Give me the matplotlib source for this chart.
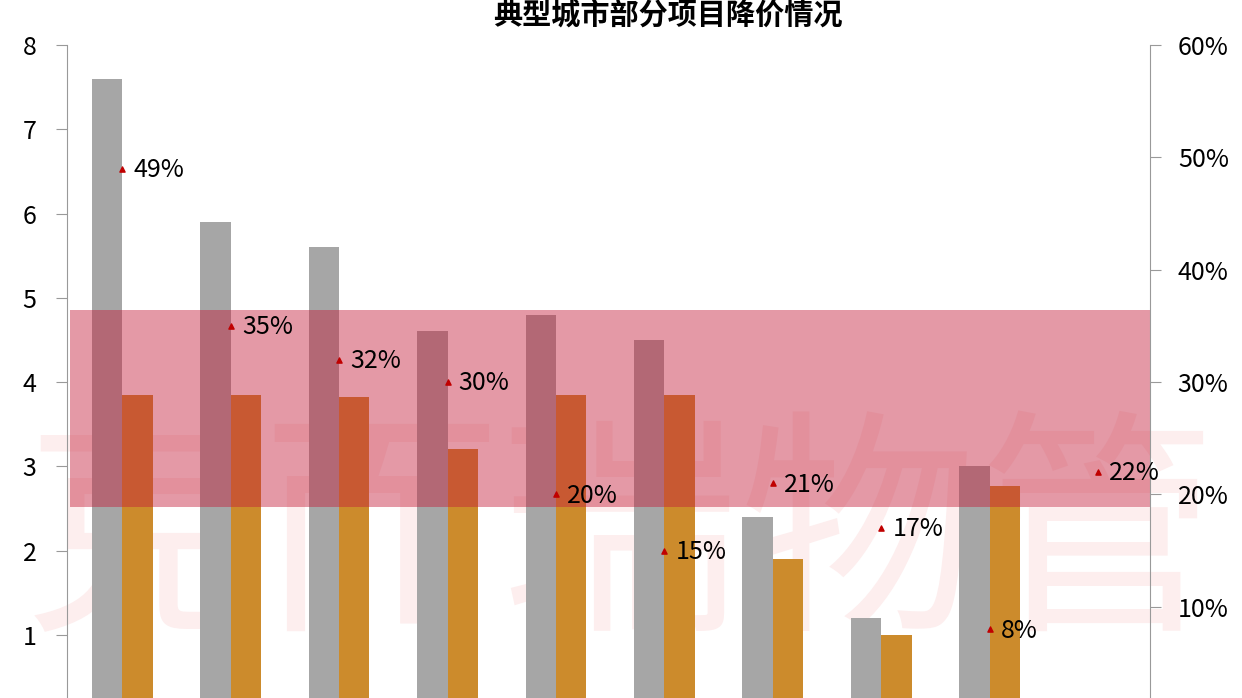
import matplotlib.pyplot as plt
import numpy as np

plt.rcParams['font.family'] = ['Noto Sans CJK SC', 'DejaVu Sans']

categories = [str(i) for i in range(10)]
gray_vals = [7.6, 5.9, 5.6, 4.6, 4.8, 4.5, 2.4, 1.2, 3.0, 0]
orange_vals = [3.85, 3.85, 3.82, 3.2, 3.85, 3.85, 1.9, 1.0, 2.77, 0]
drop_pct = [49, 35, 32, 30, 20, 15, 21, 17, 8, 22]
band = (2.52, 4.86)

fig = plt.figure(figsize=(12.42, 6.98), dpi=100)
ax = fig.add_axes([67 / 1242, 0, (1150 - 67) / 1242, 1 - 45 / 698])
# faint watermark behind the bars
ax.text(0.5, 0.22, '克而瑞物管', transform=fig.transFigure, fontsize=172,
        color='#fdeeee', ha='center', va='center', zorder=1, clip_on=False)
x = np.arange(len(categories))
w = 0.28
ax.bar(x - w / 2, gray_vals, w, color='#a6a6a6', zorder=2)
ax.bar(x + w / 2, orange_vals, w, color='#cc8b2c', zorder=2)
ax.axhspan(band[0], band[1], xmin=0.003, xmax=1.002, color='#c41e3a', alpha=0.45, lw=0, zorder=3)
ax.set_xlim(-0.51, 9.48)
ax.set_ylim(0.25, 8)
ax.set_yticks(range(1, 9))
ax.set_xticks([])
for s in ['top', 'right', 'bottom']:
    ax.spines[s].set_visible(False)
ax.spines['left'].set_color('#999999')
ax.tick_params(axis='y', colors='#999999', labelcolor='black', labelsize=18, length=8, pad=14)

ax2 = ax.twinx()
ax2.patch.set_alpha(0)
ax2.set_ylim(0.25 * 7.5, 60)
ax2.set_yticks([10, 20, 30, 40, 50, 60])
ax2.set_yticklabels([f'{v}%' for v in [10, 20, 30, 40, 50, 60]])
for s in ['top', 'left', 'bottom']:
    ax2.spines[s].set_visible(False)
ax2.spines['right'].set_color('#999999')
ax2.tick_params(axis='y', colors='#999999', labelcolor='black', labelsize=18, length=8, pad=12)
ax2.scatter(x, drop_pct, marker='^', s=14, color='#c00000', zorder=5)
for xi, p in zip(x, drop_pct):
    ax2.annotate(f'{p}%', (xi, p), xytext=(8, -1), textcoords='offset points',
                 va='center', fontsize=18, color='black', zorder=6)

fig.text(0.538, 1.0, '典型城市部分项目降价情况', fontsize=21, fontweight='bold',
         ha='center', va='top')
fig.savefig('out.png', dpi=100)
